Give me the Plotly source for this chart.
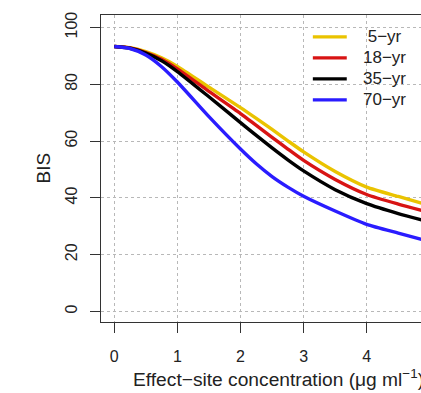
import plotly.graph_objects as go

# Effect-site concentration (ug/ml)
conc = [0, 0.25, 0.5, 0.75, 1, 1.5, 2, 2.25, 2.5, 2.75, 3, 3.5, 4, 4.5, 5]

# BIS values
bis_5yr = [93.3, 92.9, 91.5, 89.3, 86.3, 79.0, 71.8, 68.0, 64.1, 60.1, 56.2, 49.3, 43.8, 40.5, 37.3]
bis_18yr = [93.3, 92.8, 91.2, 88.8, 85.4, 77.5, 69.7, 65.5, 61.3, 57.2, 53.2, 46.5, 41.2, 37.8, 34.8]
bis_35yr = [93.3, 92.7, 91.0, 88.3, 84.5, 75.6, 66.5, 62.0, 57.6, 53.4, 49.5, 42.9, 38.0, 34.5, 31.5]
bis_70yr = [93.3, 92.6, 90.3, 86.2, 80.8, 68.6, 57.2, 52.0, 47.5, 43.8, 40.6, 35.4, 30.7, 27.6, 24.6]

series_names = ["\u00a05\u2212yr", "18\u2212yr", "35\u2212yr", "70\u2212yr"]
series_values = [bis_5yr, bis_18yr, bis_35yr, bis_70yr]
series_colors = ["#EAC300", "#D81414", "#000000", "#2A1CFF"]

x_ticks = [0, 1, 2, 3, 4, 5]
y_ticks = [0, 20, 40, 60, 80, 100]

FONT = "Liberation Sans, Arial, Helvetica, sans-serif"
AXIS_COLOR = "#333333"
TEXT_COLOR = "#222222"

fig = go.Figure()
for name, vals, col in zip(series_names, series_values, series_colors):
    fig.add_trace(go.Scatter(
        x=conc, y=vals, mode="lines", name=name, showlegend=False,
        line=dict(color=col, width=3.4, shape="spline", smoothing=0.6),
    ))

# legend drawn R-style (no box): short line sample followed by label
legend_shapes = []
legend_annots = []
row_y0 = 0.929
row_step = 0.0685
for i, (name, col) in enumerate(zip(series_names, series_colors)):
    yy = row_y0 - i * row_step
    legend_shapes.append(dict(
        type="line", xref="paper", yref="paper",
        x0=0.662, x1=0.768, y0=yy, y1=yy,
        line=dict(color=col, width=3.2),
    ))
    legend_annots.append(dict(
        text=name, xref="paper", yref="paper", x=0.812, y=yy,
        xanchor="left", yanchor="middle", showarrow=False,
        font=dict(family=FONT, size=17, color=TEXT_COLOR),
    ))

fig.update_layout(
    width=421, height=393,
    margin=dict(l=101, r=0, t=15, b=71),
    paper_bgcolor="white", plot_bgcolor="white",
    font=dict(family=FONT, size=16, color=TEXT_COLOR),
    showlegend=False,
    xaxis=dict(
        range=[-0.21, 4.86], tickvals=x_ticks, ticktext=[str(v) for v in x_ticks],
        showgrid=True, gridcolor="#B8B8B8", griddash="dot", gridwidth=1,
        zeroline=False, showline=True, mirror=True, linecolor=AXIS_COLOR, linewidth=1.3,
        ticks="outside", ticklen=10, tickcolor=AXIS_COLOR, tickwidth=1.3,
        ticklabelstandoff=10,
        tickfont=dict(family=FONT, size=16, color=TEXT_COLOR),
    ),
    yaxis=dict(
        range=[-3.7, 104.4], tickvals=y_ticks, ticktext=[str(v) for v in y_ticks],
        showgrid=True, gridcolor="#B8B8B8", griddash="dot", gridwidth=1,
        zeroline=False, showline=True, mirror=False, linecolor=AXIS_COLOR, linewidth=1.3,
        ticks="outside", ticklen=10, tickcolor=AXIS_COLOR, tickwidth=1.3,
        tickangle=-90, ticklabelstandoff=6,
        tickfont=dict(family=FONT, size=16, color=TEXT_COLOR),
    ),
    shapes=legend_shapes,
    annotations=[
        dict(text="BIS", xref="paper", yref="paper", x=0, y=0.5,
             xshift=-58, xanchor="center", yanchor="middle", textangle=-90,
             showarrow=False, font=dict(family=FONT, size=19, color=TEXT_COLOR)),
        dict(text="Effect\u2212site concentration (\u03bcg ml<sup>\u22121</sup>)",
             xref="paper", yref="paper", x=0.094, y=0, yshift=-56,
             xanchor="left", yanchor="middle",
             showarrow=False, font=dict(family=FONT, size=19.2, color=TEXT_COLOR)),
    ] + legend_annots,
)

fig.write_html(
    "out.html",
    config={"displayModeBar": False},
    post_script="document.body.style.margin='0';document.body.style.overflow='hidden';",
)
